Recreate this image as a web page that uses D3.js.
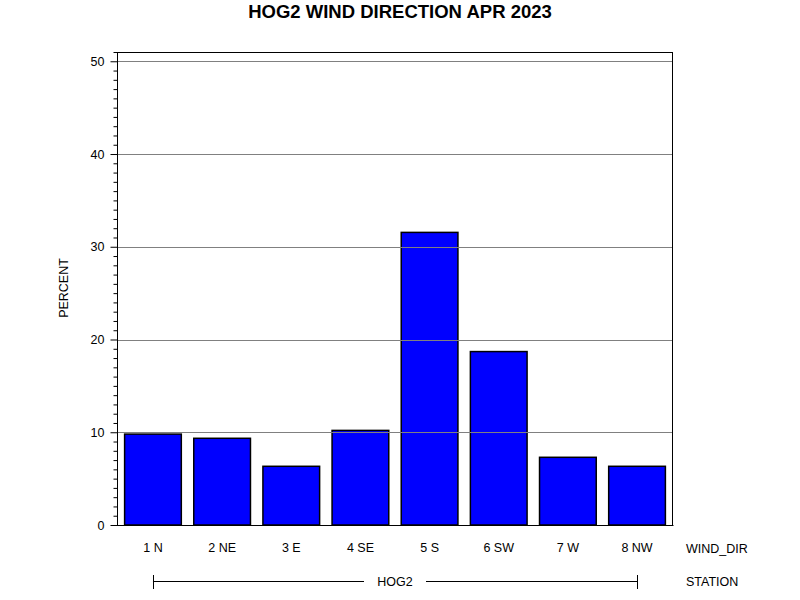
<!DOCTYPE html>
<html><head><meta charset="utf-8">
<script src="https://cdn.jsdelivr.net/npm/d3@7"></script>
<style>body{margin:0;background:#fff}svg{display:block}text{font-family:"Liberation Sans",Arial,sans-serif}</style>
</head><body>
<svg id="c" width="800" height="600"></svg>
<script>
const categories = ["1 N","2 NE","3 E","4 SE","5 S","6 SW","7 W","8 NW"];
const percent = [9.8, 9.35, 6.33, 10.2, 31.55, 18.7, 7.3, 6.33];
const yTicks = [0,10,20,30,40,50];
const station = "HOG2";

const svg = d3.select("#c");
const L=117,R=673,T=52,B=525;
const x = d3.scaleBand().domain(categories).range([L,R]).paddingInner(0.18).paddingOuter(0.11);
const y = d3.scaleLinear().domain([0,51]).range([B,T]);

svg.append("rect").attr("width",800).attr("height",600).attr("fill","#fff");

// bars
svg.append("g").selectAll("rect").data(categories).join("rect")
  .attr("x",d=>x(d)).attr("width",x.bandwidth())
  .attr("y",(d,i)=>y(percent[i])).attr("height",(d,i)=>B-y(percent[i]))
  .attr("fill","#0000ff").attr("stroke","#000").attr("stroke-width",1.5);

// gridlines over bars
svg.append("g").selectAll("line").data(yTicks.filter(v=>v>0)).join("line")
  .attr("x1",L).attr("x2",R).attr("y1",d=>Math.round(y(d))+0.5).attr("y2",d=>Math.round(y(d))+0.5)
  .attr("stroke","#808080").attr("stroke-width",1);

// frame
svg.append("rect").attr("x",L+0.5).attr("y",T+0.5).attr("width",R-L-1).attr("height",B-T)
  .attr("fill","none").attr("stroke","#000").attr("stroke-width",1);

// y axis
const yAxis = d3.axisLeft(y).tickValues(yTicks).tickSize(7).tickPadding(6).tickFormat(d3.format("d"));
const gy = svg.append("g").attr("transform",`translate(${L+0.5},0)`).call(yAxis);
gy.select(".domain").remove();
gy.selectAll("text").attr("font-size",12.5).attr("fill","#000").attr("font-family","'Liberation Sans',Arial,sans-serif");
const minor = d3.range(0,52,1).filter(v=>v%10!==0);
const gm = svg.append("g").attr("transform",`translate(${L+0.5},0)`)
  .call(d3.axisLeft(y).tickValues(minor).tickSize(4).tickFormat(""));
gm.select(".domain").remove();

// x axis labels
const gx = svg.append("g").attr("transform",`translate(0,${B})`)
  .call(d3.axisBottom(x).tickSize(0).tickPadding(18));
gx.select(".domain").attr("stroke","#000");
gx.selectAll("text").attr("font-size",12.5).attr("fill","#000").attr("font-family","'Liberation Sans',Arial,sans-serif");

svg.append("text").attr("x",686).attr("y",553).attr("font-size",12.5).text("WIND_DIR");
svg.append("text").attr("x",686).attr("y",586).attr("font-size",12.5).text("STATION");

// station bracket
const x1 = x(categories[0])+x.bandwidth()/2, x2 = x(categories[categories.length-1])+x.bandwidth()/2;
const cx = (x1+x2)/2, ly = 581.5;
const br = svg.append("g").attr("stroke","#000").attr("stroke-width",1);
br.append("line").attr("x1",x1).attr("x2",cx-31).attr("y1",ly).attr("y2",ly);
br.append("line").attr("x1",cx+31).attr("x2",x2).attr("y1",ly).attr("y2",ly);
br.append("line").attr("x1",Math.round(x1)+0.5).attr("x2",Math.round(x1)+0.5).attr("y1",575).attr("y2",589);
br.append("line").attr("x1",Math.round(x2)+0.5).attr("x2",Math.round(x2)+0.5).attr("y1",575).attr("y2",589);
svg.append("text").attr("x",cx).attr("y",586).attr("text-anchor","middle").attr("font-size",12.5).text(station);

// y label
svg.append("text").attr("transform","translate(68,288) rotate(-90)").attr("text-anchor","middle")
  .attr("font-size",12.5).text("PERCENT");

// title
svg.append("text").attr("x",400).attr("y",18).attr("text-anchor","middle")
  .attr("font-size",18.5).attr("font-weight","bold").text("HOG2 WIND DIRECTION APR 2023");
</script>
</body></html>
